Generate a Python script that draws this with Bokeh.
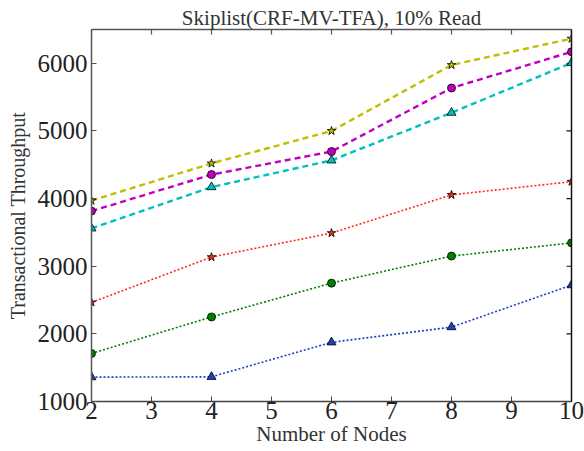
import math
from bokeh.plotting import figure
from bokeh.models import LinearAxis, FixedTicker, Range1d
from bokeh.embed import file_html
from bokeh.resources import INLINE

# Number of nodes on the x axis
nodes = [2, 4, 6, 8, 10]

# Transactional throughput per configuration
yellow_star = [3970, 4520, 5000, 5975, 6365]
magenta_circle = [3815, 4355, 4695, 5635, 6170]
cyan_triangle = [3560, 4170, 4565, 5270, 6005]
red_star = [2465, 3135, 3490, 4055, 4250]
green_circle = [1710, 2250, 2750, 3150, 3345]
blue_triangle = [1360, 1365, 1875, 2100, 2720]

x_ticks = [2, 3, 4, 5, 6, 7, 8, 9, 10]
y_ticks = [1000, 2000, 3000, 4000, 5000, 6000]

X_MIN, X_MAX = 2, 10
Y_MIN, Y_MAX = 1000, 6500

FONT = "Liberation Serif"

p = figure(width=584, height=451, x_range=Range1d(X_MIN, X_MAX), y_range=Range1d(Y_MIN, Y_MAX),
           output_backend="svg", toolbar_location=None,
           min_border_left=91, min_border_right=13, min_border_top=29, min_border_bottom=50,
           x_axis_location=None, y_axis_location=None)
p.xgrid.visible = False
p.ygrid.visible = False
p.outline_line_color = None
p.background_fill_color = "white"
p.border_fill_color = "white"

p.title.text = "Skiplist(CRF-MV-TFA), 10% Read"
p.title.align = "center"
p.title.text_font = FONT
p.title.text_font_size = "21px"
p.title.text_font_style = "normal"
p.title.text_color = "#333333"
p.title.standoff = 0
p.title.offset = 0

def style_axis(ax, color, label_size):
    ax.axis_line_color = color
    ax.axis_line_width = 1.5
    ax.major_tick_line_color = color
    ax.major_tick_in = 5
    ax.major_tick_out = 0
    ax.minor_tick_line_color = None
    ax.major_label_text_font = FONT
    ax.major_label_text_font_size = "25px"
    ax.major_label_text_color = "#222222"
    ax.axis_label_text_font = FONT
    ax.axis_label_text_font_size = label_size
    ax.axis_label_text_font_style = "normal"
    ax.axis_label_text_color = "#333333"

xb = LinearAxis(ticker=FixedTicker(ticks=x_ticks), axis_label="Number of Nodes")
style_axis(xb, "#444444", "21px")
xb.major_label_standoff = 0
xb.axis_label_standoff = 0
p.add_layout(xb, "below")

yl = LinearAxis(ticker=FixedTicker(ticks=y_ticks), axis_label="Transactional Throughput")
style_axis(yl, "#555555", "20px")
yl.major_label_standoff = 4
yl.axis_label_standoff = 6
p.add_layout(yl, "left")

# top and right frame lines (no ticks or labels of their own)
for loc, color in (("above", "#555555"), ("right", "#111111")):
    ax = LinearAxis(ticker=FixedTicker(ticks=[]))
    ax.axis_line_color = color
    ax.axis_line_width = 1.5
    ax.major_tick_line_color = None
    ax.minor_tick_line_color = None
    p.add_layout(ax, loc)

# inward ticks along the top and right edges; the outer half is clipped by the frame
p.scatter(x_ticks, [Y_MAX] * len(x_ticks), marker="dash", size=10, angle=math.pi / 2,
          line_color="#555555", line_width=1.2)
p.scatter([X_MAX] * len(y_ticks), y_ticks, marker="dash", size=10,
          line_color="#111111", line_width=1.2)

series = [
    (yellow_star, "#bfbf00", "6 4", 2.4, "star", 9),
    (magenta_circle, "#bf00bf", "6 4", 2.4, "circle", 8),
    (cyan_triangle, "#00bfbf", "6 4", 2.4, "triangle", 9),
    (red_star, "#ff2a1a", "2 2", 1.6, "star", 9),
    (green_circle, "#008000", "2 2", 1.6, "circle", 8),
    (blue_triangle, "#2040c0", "2 2", 1.6, "triangle", 9),
]

for ys, color, dash, lw, marker, size in series:
    p.line(nodes, ys, line_color=color, line_dash=dash, line_width=lw)
for ys, color, dash, lw, marker, size in series:
    p.scatter(nodes, ys, marker=marker, size=size, fill_color=color,
              line_color="black", line_width=0.8)

open("out.html", "w").write(file_html(p, INLINE))
